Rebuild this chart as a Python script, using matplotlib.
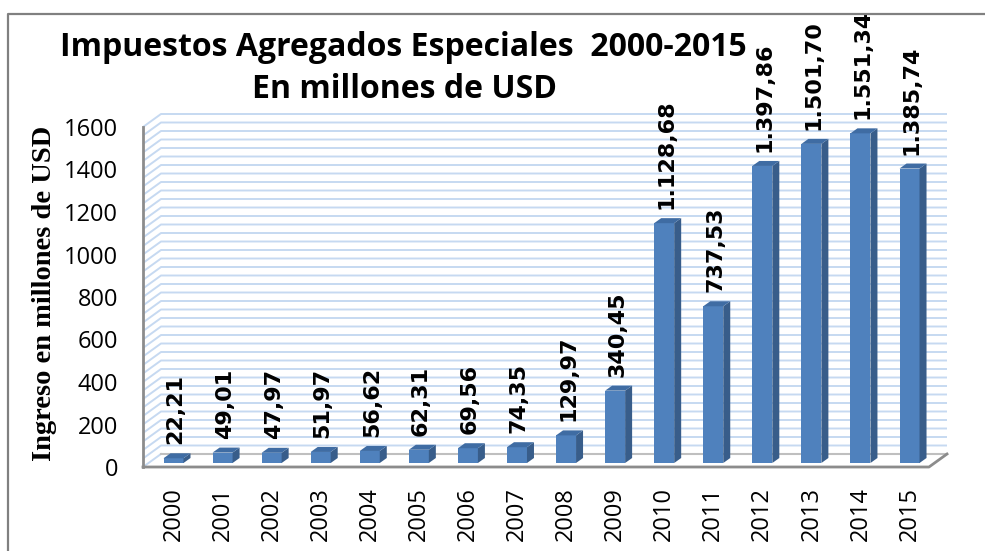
import numpy as np
import matplotlib.pyplot as plt
from matplotlib.patches import Polygon
from matplotlib.lines import Line2D

years = [str(y) for y in range(2000, 2016)]
valores = [22.21, 49.01, 47.97, 51.97, 56.62, 62.31, 69.56, 74.35,
           129.97, 340.45, 1128.68, 737.53, 1397.86, 1501.70, 1551.34, 1385.74]
etiquetas = ["22,21", "49,01", "47,97", "51,97", "56,62", "62,31", "69,56", "74,35",
             "129,97", "340,45", "1.128,68", "737,53", "1.397,86", "1.501,70",
             "1.551,34", "1.385,74"]
yticks = [0, 200, 400, 600, 800, 1000, 1200, 1400, 1600]

W, H = 985, 551
fig = plt.figure(figsize=(W / 100, H / 100), dpi=100)

# front plane of the 3D box, in pixels
left, right, bottom, top = 143, 929, 467, 127
ax = fig.add_axes([left / W, (H - bottom) / H, (right - left) / W, (bottom - top) / H])
x0, x1 = -0.6216, 15.397
ax.set_xlim(x0, x1)
ax.set_ylim(0, 1600)
ux = (x1 - x0) / (right - left)      # data units per pixel
uy = 1600 / (bottom - top)

# depth of the box
DX, DY = 18 * ux, 13 * uy
grid_c = '#c6d9f1'

# floor
floor = Polygon([(x0, 0), (x1, 0), (x1 + DX, DY), (x0 + DX, DY)],
                closed=True, facecolor='white', edgecolor='none', clip_on=False, zorder=1)
ax.add_patch(floor)

# back wall + side wall gridlines
for v in np.arange(40, 1601, 40):
    ax.plot([x0, x0 + DX, x1 + DX], [v, v + DY, v + DY], color=grid_c, lw=1.4,
            clip_on=False, zorder=1, solid_capstyle='butt')
ax.plot([x0, x0 + DX], [0, DY], color=grid_c, lw=1.4, clip_on=False, zorder=1)
ax.plot([x0 + DX, x1 + DX], [DY, DY], color='#bfbfbf', lw=1.5, clip_on=False, zorder=1)
ax.plot([x0, x1, x1 + DX], [0, 0, DY], color='#8c8c8c', lw=2, clip_on=False, zorder=2)
ax.plot([x0, x0], [0, 1600], color='#8c8c8c', lw=2, clip_on=False, zorder=2)

# bars with fake 3D faces
bw = 20 * ux
bdx, bdy = 7 * ux, 5 * uy
lift = 4 * uy
xs = np.arange(len(valores))
ax.bar(xs, valores, width=bw, bottom=lift, color='#4f81bd', zorder=3)
for x, v, lab in zip(xs, valores, etiquetas):
    r = x + bw / 2
    t = lift + v
    ax.add_patch(Polygon([(r, lift), (r + bdx, lift + bdy), (r + bdx, t + bdy), (r, t)],
                         closed=True, facecolor='#385d8a', edgecolor='none', zorder=3))
    ax.add_patch(Polygon([(x - bw / 2, t), (r, t), (r + bdx, t + bdy), (x - bw / 2 + bdx, t + bdy)],
                         closed=True, facecolor='#3f6ca3', edgecolor='none', zorder=3))
    ax.text(x + 2 * ux, t + 14 * uy, lab, rotation=90, ha='center', va='bottom',
            fontsize=16, fontweight='bold', family='DejaVu Sans', zorder=4, clip_on=False)

for s in ax.spines.values():
    s.set_visible(False)
ax.set_xticks(xs)
ax.set_xticklabels(years, rotation=90, family='Open Sans', fontsize=17)
ax.set_yticks(yticks)
ax.set_yticklabels([str(t) for t in yticks], family='Open Sans', fontsize=17)
ax.tick_params(axis='both', length=0)
ax.tick_params(axis='x', pad=14.5)
ax.tick_params(axis='y', pad=18)

# y axis title
fig.text(45 / W, (H - 293) / H, "Ingreso en millones de USD", rotation=90,
         ha='center', va='center', family='Liberation Serif', fontweight='bold',
         fontsize=20.5)

fig.text(403 / W, 1 - 47 / H, "Impuestos Agregados Especiales  2000-2015", ha='center',
         va='center', family='Open Sans', fontweight='bold', fontsize=23)
fig.text(405 / W, 1 - 89 / H, "En millones de USD", ha='center', va='center',
         family='Open Sans', fontweight='bold', fontsize=23)

# chart frame
fig.add_artist(Line2D([8 / W, 8 / W, 1.0], [0, 1 - 14 / H, 1 - 14 / H],
                      transform=fig.transFigure, color='#808080', lw=1.6))

fig.savefig('out.png', dpi=100)
